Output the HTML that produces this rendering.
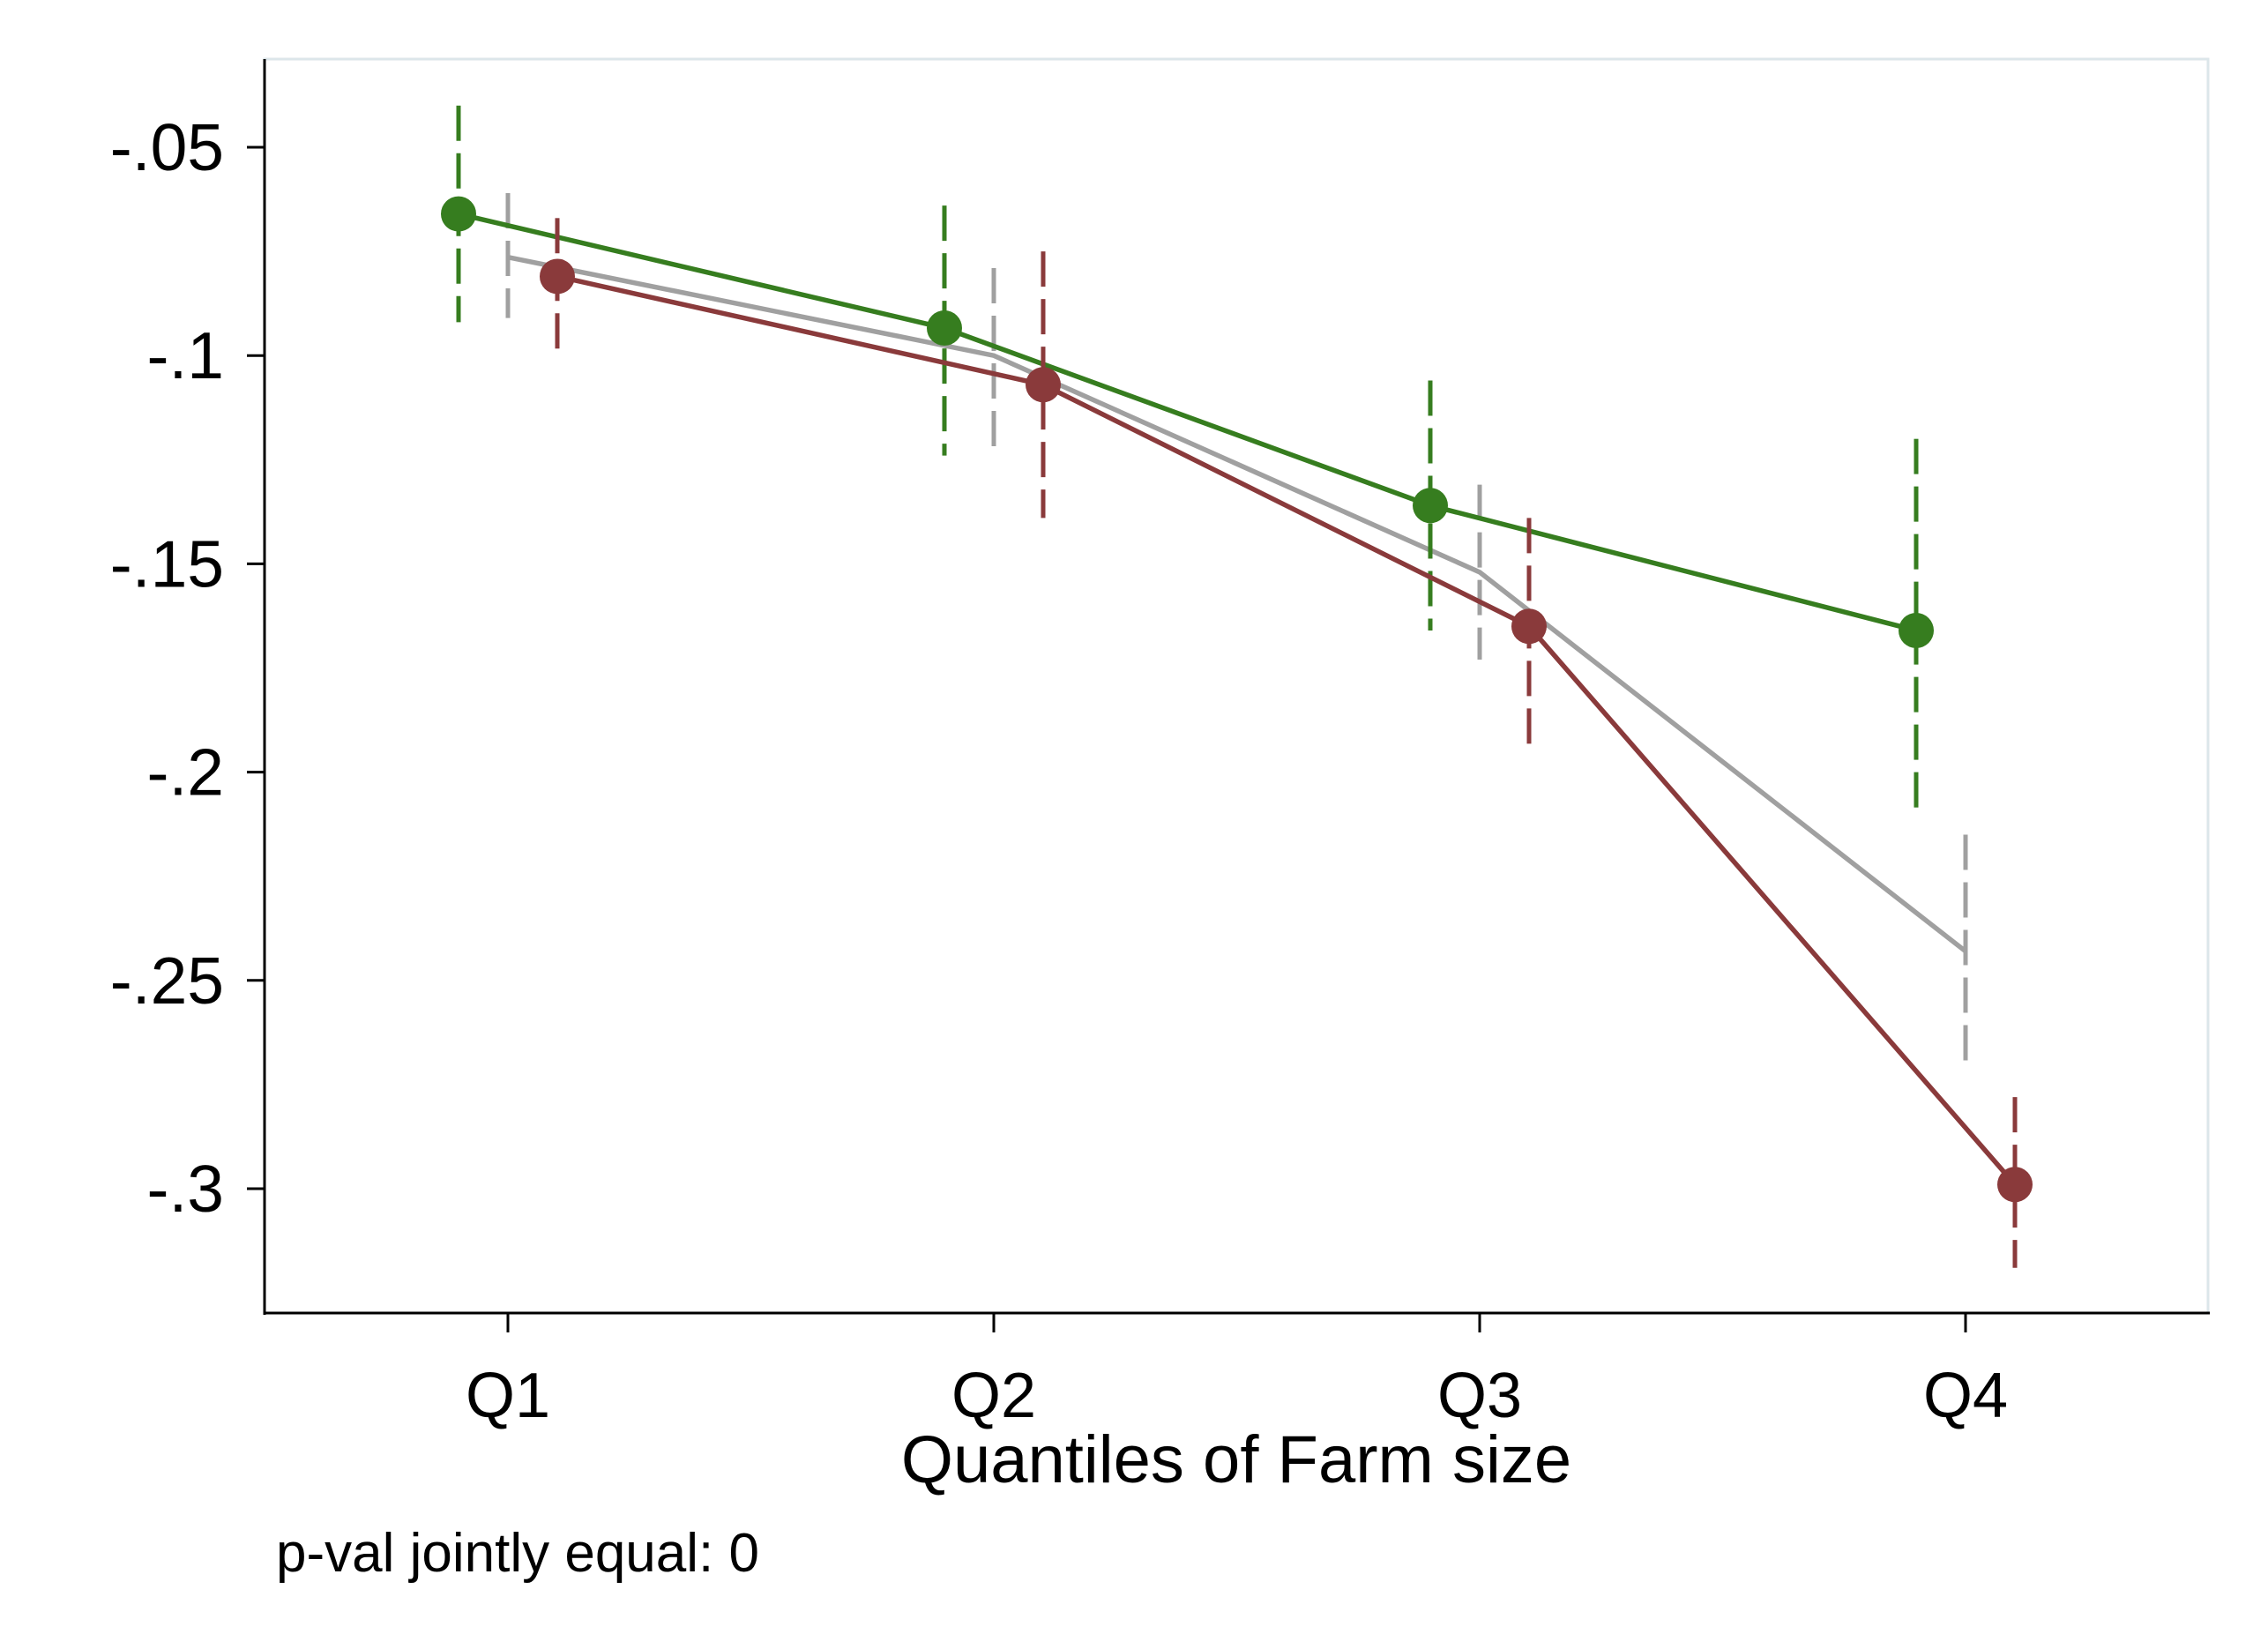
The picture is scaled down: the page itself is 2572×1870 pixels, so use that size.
<!DOCTYPE html>
<html><head><meta charset="utf-8"><style>
html,body{margin:0;padding:0;background:#fff;}
svg{display:block;font-family:"Liberation Sans",sans-serif;}
</style></head><body>
<svg id="chart" width="2572" height="1870" xmlns="http://www.w3.org/2000/svg">
<rect x="0" y="0" width="2572" height="1870" fill="#fff"/>
<g id="g"></g>
</svg>
<script>
const categories = ["Q1","Q2","Q3","Q4"];
const yTicks = [-0.05,-0.1,-0.15,-0.2,-0.25,-0.3];
const yTickLabels = ["-.05","-.1","-.15","-.2","-.25","-.3"];
const greenVals = [-0.066,-0.0934,-0.136,-0.166];
const greenLo = [-0.092,-0.124,-0.166,-0.211];
const greenHi = [-0.040,-0.064,-0.106,-0.120];
const grayVals = [-0.0764,-0.100,-0.152,-0.243];
const grayLo = [-0.091,-0.1225,-0.173,-0.271];
const grayHi = [-0.061,-0.079,-0.131,-0.215];
const redVals = [-0.081,-0.107,-0.165,-0.299];
const redLo = [-0.0986,-0.139,-0.196,-0.319];
const redHi = [-0.067,-0.075,-0.139,-0.278];

const NS="http://www.w3.org/2000/svg";
const g=document.getElementById('g');
function el(t,a){const e=document.createElementNS(NS,t);for(const k in a)e.setAttribute(k,a[k]);g.appendChild(e);return e;}
const L=300,T=67,R=2504,B=1489;
function y(v){return 167+(-0.05-v)/0.05*236.2;}
function x(i){return 576+i*551;}

let fr=el('rect',{x:L,y:T,width:R-L,height:B-T,fill:'none',stroke:'#dce6ea','stroke-width':3});


let ya=el('line',{x1:L,y1:T,x2:L,y2:B+2,stroke:'#000','stroke-width':3});


let xa=el('line',{x1:L,y1:B,x2:R+2,y2:B,stroke:'#000','stroke-width':3});



yTicks.forEach((v,i)=>{
  let t=el('line',{x1:L-20,x2:L,y1:y(v),y2:y(v),stroke:'#000','stroke-width':3});
  
  
  let s=el('text',{x:254,y:y(v)+26,'text-anchor':'end','font-size':75});
  s.textContent=yTickLabels[i];
  
  
});
categories.forEach((c,i)=>{
  let t=el('line',{x1:x(i),x2:x(i),y1:B,y2:B+22,stroke:'#000','stroke-width':3});
  
  
  let s=el('text',{x:x(i),y:1607,'text-anchor':'middle','font-size':72});
  s.textContent=c;
  
  
});

function series(name,vals,lo,hi,off,col,markers){
  categories.forEach((c,i)=>{
    let ci=el('line',{x1:x(i)+off,x2:x(i)+off,y1:y(hi[i]),y2:y(lo[i]),stroke:col,'stroke-width':5,'stroke-dasharray':'40 14'});
    
    
  });
  let p=el('polyline',{points:vals.map((v,i)=>(x(i)+off)+','+y(v)).join(' '),fill:'none',stroke:col,'stroke-width':5.5});
  
  
  if(markers) vals.forEach((v,i)=>{
    let m=el('circle',{cx:x(i)+off,cy:y(v),r:20,fill:col});
    
    
  });
}
series('gray',grayVals,grayLo,grayHi,0,'#a0a0a0',false);
series('green',greenVals,greenLo,greenHi,-56,'#367d1f',true);
series('red',redVals,redLo,redHi,56,'#8a3a3b',true);

let xt=el('text',{x:1402,y:1681,'text-anchor':'middle','font-size':76});
xt.textContent='Quantiles of Farm size';


let note=el('text',{x:313,y:1782,'font-size':62});
note.textContent='p-val jointly equal: 0';


</script>
</body></html>
